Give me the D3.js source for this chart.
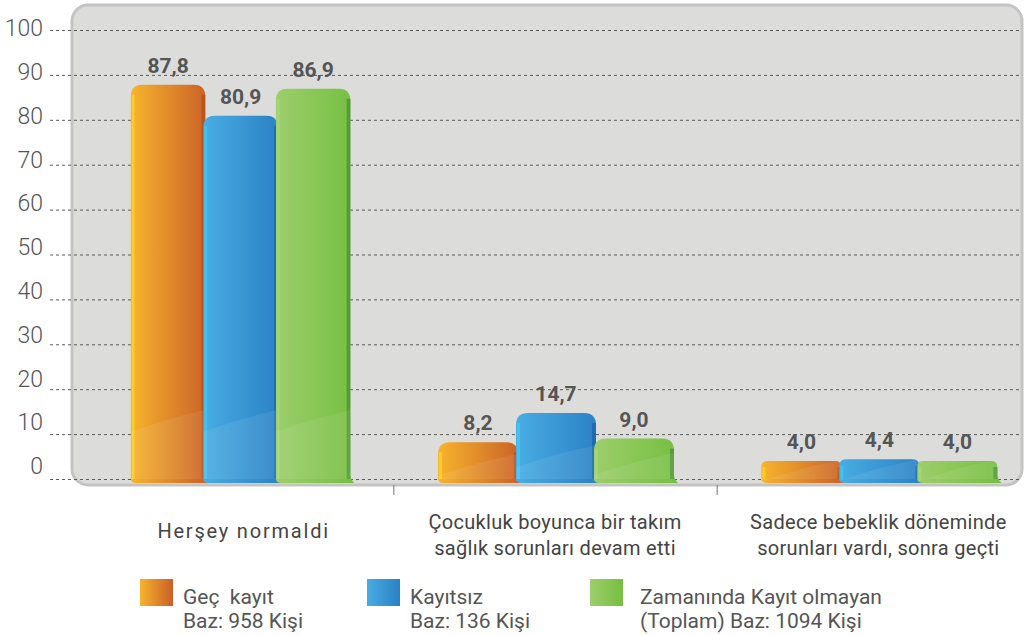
<!DOCTYPE html>
<html>
<head>
<meta charset="utf-8">
<script src="https://cdn.jsdelivr.net/npm/d3@7"></script>
<style>
  body { margin: 0; background: #fff; }
  text { font-family: Roboto, "DejaVu Sans", sans-serif; white-space: pre; }
</style>
</head>
<body>
<svg id="chart" width="1025" height="635"></svg>
<script>
// data
const categories = ['Herşey normaldi', 'Çocukluk boyunca bir takım sağlık sorunları devam etti', 'Sadece bebeklik döneminde sorunları vardı, sonra geçti'];
const categoryLines = [
  ['Herşey normaldi'],
  ['Çocukluk boyunca bir takım', 'sağlık sorunları devam etti'],
  ['Sadece bebeklik döneminde', 'sorunları vardı, sonra geçti']
];
const seriesNames = ['Geç  kayıt', 'Kayıtsız', 'Zamanında Kayıt olmayan'];
const seriesBase = ['Baz: 958 Kişi', 'Baz: 136 Kişi', '(Toplam) Baz: 1094 Kişi'];
const gecKayit = [87.8, 8.2, 4.0];
const kayitsiz = [80.9, 14.7, 4.4];
const zamaninda = [86.9, 9.0, 4.0];
const yTicks = [0, 10, 20, 30, 40, 50, 60, 70, 80, 90, 100];

const palettes = [
  {light: '#f7b42c', dark: '#c95f27', edge: '#ffd327', rim: '#b9561f'},
  {light: '#49ade3', dark: '#2a80c4', edge: '#3fc8f7', rim: '#1d6db0'},
  {light: '#9dce6c', dark: '#76bf40', edge: '#a8d678', rim: '#559c38'}
];

const svg = d3.select('#chart');
const defs = svg.append('defs');

const y = d3.scaleLinear().domain([0, 100]).range([479, 30]);
const yLabel = d3.scaleLinear().domain([0, 100]).range([466, 28]);
const x0 = d3.scaleBand().domain(categories).range([70, 1040]);
const x1 = d3.scaleBand().domain(seriesNames).range([0, 234]);

const values = [gecKayit, kayitsiz, zamaninda];
const data = [];
categories.forEach(function (c, i) {
  seriesNames.forEach(function (s, j) {
    data.push({cat: c, ci: i, ser: s, si: j, value: values[j][i]});
  });
});

palettes.forEach(function (p, i) {
  const g = defs.append('linearGradient').attr('id', 'grad' + i)
    .attr('x1', 0).attr('x2', 1).attr('y1', 0).attr('y2', 0);
  g.append('stop').attr('offset', '0%').attr('stop-color', p.light);
  g.append('stop').attr('offset', '100%').attr('stop-color', p.dark);
});

// plot background
svg.append('rect')
  .attr('x', 72).attr('y', 5)
  .attr('width', 950).attr('height', 480)
  .attr('rx', 16)
  .attr('fill', '#dcdcdb')
  .attr('stroke', '#c4c4c4')
  .attr('stroke-width', 3);

// gridlines
svg.append('g').selectAll('line')
  .data(yTicks)
  .join('line')
  .attr('x1', 50).attr('x2', 1021)
  .attr('y1', d => y(d) + 0.5).attr('y2', d => y(d) + 0.5)
  .attr('stroke', '#5a5a5a')
  .attr('stroke-dasharray', '3,3')
  .attr('stroke-width', 1);

// tick labels
svg.append('g').selectAll('text')
  .data(yTicks)
  .join('text')
  .attr('x', 43)
  .attr('y', d => yLabel(d))
  .attr('dy', '0.36em')
  .attr('text-anchor', 'end')
  .attr('font-size', 23)
  .attr('font-weight', 300)
  .attr('fill', '#555')
  .text(d => d);

// category separators
svg.append('g').selectAll('line')
  .data(categories.slice(1))
  .join('line')
  .attr('x1', d => x0(d) + 0.5).attr('x2', d => x0(d) + 0.5)
  .attr('y1', 485).attr('y2', 495)
  .attr('stroke', '#777');

function barPath(x, w, top, bottom) {
  const h = bottom - top;
  const r = Math.min(12, h / 3);
  return 'M' + x + ',' + bottom +
    'L' + x + ',' + (top + r) +
    'Q' + x + ',' + top + ' ' + (x + r) + ',' + top +
    'L' + (x + w - r) + ',' + top +
    'Q' + (x + w) + ',' + top + ' ' + (x + w) + ',' + (top + r) +
    'L' + (x + w) + ',' + (bottom - 4) +
    'Q' + (x + w) + ',' + bottom + ' ' + (x + w + 4) + ',' + (bottom + 4) +
    'L' + (x + 6) + ',' + (bottom + 4) +
    'Q' + x + ',' + (bottom + 4) + ' ' + x + ',' + bottom + 'Z';
}

// the first group is drawn a little narrower, as in the reference
const groupScale = [0.93, 1, 1];
const groupShift = [8, 0, 0];
const bw = x1.bandwidth() + 2;
const bars = svg.append('g').selectAll('g')
  .data(data)
  .join('g')
  .attr('transform', function (d) {
    const k = groupScale[d.ci];
    const gx = x0(d.cat) + (x0.bandwidth() - 234 * k) / 2 + groupShift[d.ci];
    return 'translate(' + (gx + x1(d.ser) * k) + ',0) scale(' + k + ',1)';
  });

bars.append('path')
  .attr('d', d => barPath(0, bw, y(d.value), y(0)))
  .attr('fill', d => 'url(#grad' + d.si + ')');

// right rim
bars.append('rect')
  .attr('x', bw - 4)
  .attr('y', d => y(d.value) + Math.min(10, (y(0) - y(d.value)) / 3))
  .attr('width', 4)
  .attr('height', d => Math.max(0, y(0) - y(d.value) - Math.min(10, (y(0) - y(d.value)) / 3)))
  .attr('fill', d => palettes[d.si].rim);

// left highlight
bars.append('rect')
  .attr('x', 1)
  .attr('y', d => y(d.value) + Math.min(10, (y(0) - y(d.value)) / 3))
  .attr('width', 3)
  .attr('height', d => Math.max(0, y(0) - y(d.value) - Math.min(10, (y(0) - y(d.value)) / 3)))
  .attr('fill', d => palettes[d.si].edge)
  .attr('opacity', 0.8);

// lower shine
bars.append('path')
  .attr('d', function (d) {
    const h = y(0) - y(d.value);
    const s = Math.min(55, h * 0.3);
    const b = y(0);
    return 'M0,' + (b - s + 8) + 'Q' + (bw * 0.5) + ',' + (b - s - 6) + ' ' + bw + ',' + (b - s - 14) +
      'L' + bw + ',' + b + 'L0,' + b + 'Z';
  })
  .attr('fill', '#fff')
  .attr('opacity', 0.08);

// value labels
bars.append('text')
  .attr('x', bw / 2)
  .attr('y', d => y(d.value) - 12)
  .attr('text-anchor', 'middle')
  .attr('font-size', 21)
  .attr('font-weight', 700)
  .attr('fill', '#555')
  .attr('transform', d => 'scale(' + (1 / groupScale[d.ci]) + ',1)')
  .attr('x', d => (bw / 2) * groupScale[d.ci])
  .text(d => d3.format('.1f')(d.value).replace('.', ','));

// category labels
svg.append('g').selectAll('text')
  .data(categories)
  .join('text')
  .attr('text-anchor', 'middle')
  .attr('font-size', 20)
  .attr('fill', '#444')
  .each(function (d, i) {
    const lines = categoryLines[i];
    const t = d3.select(this);
    const cx = x0(d) + x0.bandwidth() / 2 + (i === 0 ? 12 : 0);
    lines.forEach(function (l, k) {
      t.append('tspan')
        .attr('x', cx)
        .attr('y', (lines.length === 1 ? 538 : 529) + k * 26)
        .attr('letter-spacing', lines.length === 1 ? 1.8 : 0.3)
        .text(l);
    });
  });

// legend
const legendX = [140, 367, 590];
const legend = svg.append('g').selectAll('g')
  .data(seriesNames)
  .join('g')
  .attr('transform', (d, i) => 'translate(' + legendX[i] + ',579)');

legend.append('rect')
  .attr('width', 33).attr('height', 27)
  .attr('fill', (d, i) => 'url(#grad' + i + ')');

legend.append('text')
  .attr('font-size', 21)
  .attr('fill', '#555')
  .each(function (d, i) {
    const t = d3.select(this);
    const tx = i === 2 ? 50 : 43;
    t.append('tspan').attr('x', tx).attr('y', 25).text(d);
    t.append('tspan').attr('x', tx).attr('y', 49).text(seriesBase[i]);
  });
</script>
</body>
</html>
